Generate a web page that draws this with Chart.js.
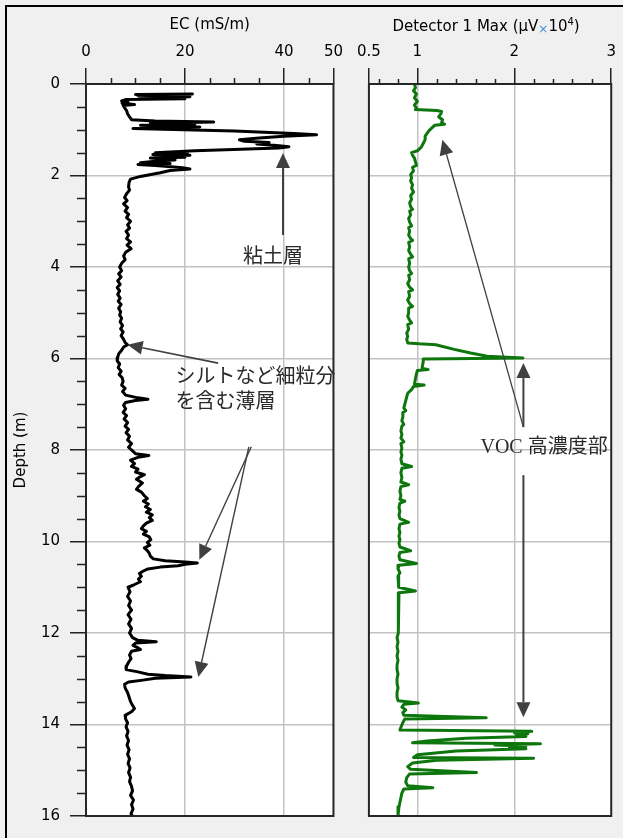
<!DOCTYPE html>
<html>
<head>
<meta charset="utf-8">
<script src="https://cdn.jsdelivr.net/npm/chart.js@4.4.1/dist/chart.umd.min.js"></script>
<style>
  html, body { margin: 0; padding: 0; background: #f0f0f0; }
  body { width: 623px; height: 838px; position: relative; overflow: hidden; }
  #frame { position: absolute; left: 5px; top: 5px; width: 700px; height: 900px;
           border-top: 2px solid #000; border-left: 2px solid #000; }
  #ec { position: absolute; left: 0; top: 0; width: 350px; height: 838px; }
  #det { position: absolute; left: 350px; top: 0; width: 273px; height: 838px; }
</style>
</head>
<body>
<div id="frame"></div>
<canvas id="ec" width="350" height="838"></canvas>
<canvas id="det" width="273" height="838"></canvas>
<script>
const FONT = "'DejaVu Sans', sans-serif";
const NOTE_FONT = "20px 'Liberation Serif', 'Noto Sans CJK JP', serif";
const GRID = '#c2c2c2';
const INK = '#222';

// EC log (depth m, mS/m)
const ecDepth = [0.22, 0.23, 0.25, 0.26, 0.28, 0.30, 0.32, 0.34, 0.37, 0.40, 0.42, 0.45, 0.47, 0.52, 0.58,
  0.65, 0.72, 0.78, 0.81, 0.83, 0.86, 0.88, 0.90, 0.94, 0.97, 1.03, 1.08, 1.11, 1.14, 1.18, 1.22, 1.25,
  1.28, 1.31, 1.34, 1.37, 1.40, 1.46, 1.50, 1.52, 1.54, 1.56, 1.58, 1.60, 1.62, 1.66, 1.68, 1.72, 1.74,
  1.76, 1.78, 1.80, 1.83, 1.86, 1.89, 1.94, 2.02, 2.08, 2.15, 2.25, 2.32, 2.40, 2.48, 2.55, 2.62, 2.70,
  2.78, 2.85, 2.92, 3.00, 3.08, 3.15, 3.22, 3.30, 3.38, 3.45, 3.52, 3.60, 3.68, 3.76, 3.84, 3.92, 4.00,
  4.08, 4.15, 4.22, 4.30, 4.38, 4.45, 4.52, 4.60, 4.68, 4.75, 4.82, 4.90, 4.98, 5.05, 5.12, 5.20, 5.28,
  5.35, 5.42, 5.50, 5.58, 5.65, 5.70, 5.75, 5.82, 5.90, 5.98, 6.05, 6.12, 6.20, 6.28, 6.35, 6.42, 6.50,
  6.58, 6.65, 6.72, 6.80, 6.86, 6.89, 6.92, 6.96, 7.02, 7.10, 7.18, 7.25, 7.32, 7.40, 7.48, 7.55, 7.62,
  7.70, 7.78, 7.86, 7.94, 8.02, 8.08, 8.12, 8.16, 8.22, 8.30, 8.36, 8.42, 8.48, 8.54, 8.58, 8.64, 8.72,
  8.80, 8.86, 8.92, 9.00, 9.06, 9.12, 9.18, 9.24, 9.30, 9.36, 9.42, 9.48, 9.54, 9.60, 9.66, 9.72, 9.78,
  9.84, 9.90, 9.96, 10.02, 10.08, 10.14, 10.20, 10.26, 10.32, 10.38, 10.42, 10.45, 10.47, 10.50, 10.53,
  10.56, 10.60, 10.65, 10.70, 10.76, 10.82, 10.88, 10.94, 11.00, 11.10, 11.20, 11.30, 11.40, 11.50,
  11.60, 11.70, 11.80, 11.90, 12.00, 12.10, 12.16, 12.19, 12.22, 12.27, 12.32, 12.36, 12.40, 12.48,
  12.56, 12.64, 12.72, 12.80, 12.85, 12.90, 12.93, 12.96, 12.99, 13.03, 13.07, 13.12, 13.20, 13.30,
  13.40, 13.50, 13.58, 13.65, 13.72, 13.80, 13.88, 13.96, 14.05, 14.15, 14.25, 14.35, 14.45, 14.55,
  14.65, 14.75, 14.85, 14.95, 15.05, 15.15, 15.25, 15.35, 15.45, 15.55, 15.65, 15.75, 15.85, 15.95, 16.00];
const ecValue = [21.5, 10, 20.5, 10.5, 21, 11, 20, 8, 7.2, 8.5, 7.3, 9.8, 7.5, 7.8, 8.2,
  8.4, 8.8, 9.2, 14, 25.8, 13, 22, 11, 23, 9.5, 30, 42, 46.6, 40, 35, 31, 32,
  37, 34.5, 38, 41, 39, 22, 14, 20.5, 13.5, 21, 14, 20, 13, 18, 15, 11, 17,
  10.5, 14, 16, 19.5, 21, 17, 15, 11, 9, 8.7, 8.6, 8.8, 8.2, 7.8, 8.3, 7.6, 8.4,
  7.9, 8.6, 8.2, 9, 8.4, 8.8, 8.1, 8.6, 8.2, 9, 8.3, 9.1, 8, 7.6, 7.9, 7.2, 6.8,
  7.2, 6.6, 7.1, 6.4, 6.9, 6.3, 6.8, 6.4, 6.9, 6.5, 7.1, 6.6, 7, 6.8, 7.2, 6.9, 7.4,
  7, 7.5, 7.1, 7.6, 7.9, 8.4, 7.6, 7.2, 6.6, 6.4, 6.3, 6.8, 6.5, 7.1, 6.7, 7.3, 7.5,
  7.2, 7.9, 7.4, 8, 10.5, 12.5, 10, 8, 7.6, 8, 7.5, 8.2, 7.7, 8.4, 7.9, 8.6, 8.1,
  8.8, 8.4, 9.2, 8.6, 9.4, 10, 12.7, 10.5, 9, 9.8, 9.2, 10.5, 10, 11.8, 11, 10.2, 11.4,
  10.6, 10.2, 11.2, 11.8, 12.4, 11.6, 12.6, 12, 13, 12.2, 13.4, 12.8, 13.4, 12.2, 11.6, 11.2, 12.2,
  11.6, 12.8, 13.1, 12.4, 12.9, 11.8, 12.4, 12.8, 13, 13.6, 16, 20, 22.5, 20, 18.6,
  15, 12.5, 11.5, 10.8, 11.2, 10.6, 11, 9.8, 8.5, 8.9, 8.4, 9, 8.6, 9.2,
  8.5, 9.1, 8.6, 9.2, 8.8, 9.4, 10.5, 14.2, 10, 9.5, 10.4, 11, 9.2, 8.8,
  9.1, 8.6, 8.2, 8.1, 10.5, 12.5, 16, 21.2, 14, 11.5, 8.6, 7.8, 7.9, 8.4,
  8.7, 9, 9.4, 9.8, 9.2, 7.9, 8, 8.4, 8.1, 8.5, 8.2, 8.6, 8.3, 8.7,
  8.4, 8.8, 8.5, 8.9, 8.6, 9, 8.8, 9.2, 9.4, 9, 9.6, 9.2, 9.5, 9.1, 9.4];

// Detector 1 Max log (depth m, uV x10^4)
const detDepth = [0.00, 0.08, 0.15, 0.22, 0.30, 0.38, 0.46, 0.52, 0.56, 0.58, 0.60, 0.66, 0.72, 0.78,
  0.84, 0.88, 0.90, 0.96, 1.02, 1.08, 1.14, 1.22, 1.30, 1.38, 1.46, 1.50, 1.56, 1.62, 1.70, 1.78, 1.82,
  1.90, 1.98, 2.05, 2.12, 2.20, 2.28, 2.36, 2.44, 2.52, 2.60, 2.68, 2.74, 2.78, 2.86, 2.94, 3.02, 3.10,
  3.14, 3.22, 3.30, 3.38, 3.42, 3.46, 3.56, 3.64, 3.72, 3.78, 3.82, 3.92, 4.00, 4.08, 4.14, 4.18, 4.28,
  4.36, 4.44, 4.50, 4.54, 4.64, 4.72, 4.80, 4.86, 4.90, 5.00, 5.08, 5.16, 5.22, 5.26, 5.36, 5.44, 5.52,
  5.58, 5.66, 5.68, 5.70, 5.80, 5.88, 5.95, 5.99, 6.01, 6.08, 6.18, 6.22, 6.24, 6.26, 6.34, 6.44, 6.56,
  6.58, 6.61, 6.68, 6.76, 6.84, 6.92, 7.00, 7.08, 7.14, 7.18, 7.28, 7.36, 7.44, 7.48, 7.58, 7.66, 7.74,
  7.82, 7.86, 7.96, 8.04, 8.12, 8.20, 8.30, 8.36, 8.40, 8.50, 8.60, 8.70, 8.76, 8.80, 8.90, 9.00, 9.08,
  9.12, 9.16, 9.26, 9.34, 9.42, 9.50, 9.58, 9.62, 9.72, 9.80, 9.88, 9.96, 10.04, 10.12, 10.20, 10.24,
  10.32, 10.40, 10.48, 10.52, 10.60, 10.68, 10.76, 10.84, 10.92, 11.00, 11.08, 11.12, 11.22, 11.30,
  11.40, 11.50, 11.60, 11.70, 11.80, 11.90, 12.00, 12.10, 12.20, 12.30, 12.40, 12.50, 12.60, 12.70,
  12.80, 12.90, 13.00, 13.10, 13.20, 13.30, 13.40, 13.48, 13.53, 13.56, 13.62, 13.68, 13.74, 13.80,
  13.85, 13.88, 13.96, 14.06, 14.12, 14.15, 14.18, 14.20, 14.23, 14.26, 14.30, 14.36, 14.40, 14.42,
  14.45, 14.47, 14.50, 14.53, 14.58, 14.66, 14.72, 14.74, 14.78, 14.84, 14.92, 14.98, 15.05, 15.08,
  15.16, 15.26, 15.34, 15.38, 15.41, 15.50, 15.60, 15.70, 15.80, 15.90, 16.00];
const detValue = [0.97, 0.98, 0.96, 0.99, 0.97, 1.0, 0.97, 0.99, 0.98, 1.2, 1.25, 1.24, 1.22, 1.26,
  1.25, 1.28, 1.18, 1.15, 1.12, 1.1, 1.08, 1.08, 1.06, 1.04, 1.0, 0.94, 0.95, 0.97, 0.98, 0.99, 0.95,
  0.96, 0.93, 0.94, 0.93, 0.95, 0.94, 0.96, 0.93, 0.94, 0.92, 0.93, 0.95, 0.92, 0.93, 0.91, 0.92, 0.94,
  0.91, 0.92, 0.91, 0.93, 0.95, 0.91, 0.92, 0.91, 0.93, 0.95, 0.91, 0.92, 0.91, 0.92, 0.94, 0.91, 0.92,
  0.90, 0.92, 0.95, 0.91, 0.92, 0.90, 0.92, 0.95, 0.91, 0.91, 0.90, 0.92, 0.94, 0.90, 0.91, 0.89, 0.90,
  0.89, 0.90, 1.02, 1.19, 1.38, 1.55, 1.72, 2.09, 1.06, 1.06, 1.05, 1.05, 1.11, 1.0, 0.99, 0.98, 0.97,
  1.07, 0.96, 0.94, 0.90, 0.89, 0.88, 0.87, 0.86, 0.88, 0.85, 0.85, 0.84, 0.86, 0.84, 0.83, 0.84, 0.83,
  0.86, 0.83, 0.84, 0.83, 0.84, 0.83, 0.84, 0.94, 0.84, 0.83, 0.84, 0.83, 0.91, 0.83, 0.82, 0.83, 0.82,
  0.87, 0.82, 0.81, 0.82, 0.81, 0.82, 0.91, 0.82, 0.81, 0.82, 0.81, 0.82, 0.81, 0.82, 0.93, 0.82,
  0.81, 0.82, 0.99, 0.81, 0.80, 0.82, 0.80, 0.81, 0.80, 0.81, 0.98, 0.81, 0.80, 0.81,
  0.80, 0.80, 0.81, 0.80, 0.80, 0.81, 0.80, 0.79, 0.80, 0.79, 0.80, 0.79, 0.80, 0.79,
  0.79, 0.80, 0.79, 0.79, 0.80, 0.79, 0.79, 0.80, 1.01, 0.86, 0.84, 0.88, 0.85, 0.86,
  1.71, 0.87, 0.85, 0.83, 0.82, 2.18, 2.0, 2.14, 2.02, 2.12, 1.5, 1.1, 0.95, 2.27,
  1.8, 2.12, 1.95, 2.12, 1.4, 1.0, 0.96, 2.2, 1.2, 0.95, 0.90, 0.93, 1.61, 0.92,
  0.89, 0.88, 0.90, 1.16, 0.86, 0.84, 0.83, 0.82, 0.81, 0.80, 0.80];

// axis ticks
const depthMajorTicks = [0, 2, 4, 6, 8, 10, 12, 14, 16];
const depthMinorTicks = [0.5, 1, 1.5, 2.5, 3, 3.5, 4.5, 5, 5.5, 6.5, 7, 7.5, 8.5, 9, 9.5,
  10.5, 11, 11.5, 12.5, 13, 13.5, 14.5, 15, 15.5];
const depthGridLines = [2, 4, 6, 8, 10, 12, 14];
const ecMajorTicks = [0, 20, 40, 50];
const ecMinorTicks = [5, 10, 15, 25, 30, 35, 45];
const ecGridLines = [20, 40];
const detMajorTicks = [0.5, 1, 2, 3];
const detMinorTicks = [0.6, 0.8, 1.2, 1.4, 1.6, 1.8, 2.2, 2.4, 2.6, 2.8];
const detGridLines = [1, 2];

// annotations, in data units [value, depth]
const ecArrows = [
  { from: [39.8, 3.30], to: [39.8, 1.51], w: 2 },
  { from: [26.7, 6.10], to: [8.4, 5.70], w: 1.7 },
  { from: [33.4, 7.93], to: [22.9, 10.40], w: 1.4 },
  { from: [32.9, 7.93], to: [22.7, 12.96], w: 1.4 },
];
const ecNotes = [
  { text: '粘土層', at: [37.8, 3.79], align: 'center' },
  { text: 'シルトなど細粒分', at: [18.1, 6.43], align: 'left' },
  { text: 'を含む薄層', at: [18.1, 6.97], align: 'left' },
];
const detArrows = [
  { from: [2.094, 7.50], to: [1.258, 1.22], w: 1.3 },
  { from: [2.094, 7.50], to: [2.094, 6.10], w: 2 },
  { from: [2.094, 8.55], to: [2.094, 13.84], w: 2 },
];
const detNotes = [
  { text: 'VOC 高濃度部', at: [1.651, 7.96], align: 'left' },
];

function toPoints(depth, value) {
  return depth.map((d, i) => ({ x: value[i], y: d }));
}

function drawArrow(ctx, x1, y1, x2, y2, w) {
  const ang = Math.atan2(y2 - y1, x2 - x1);
  const len = 15, half = 7;
  const bx = x2 - len * Math.cos(ang), by = y2 - len * Math.sin(ang);
  ctx.lineWidth = w;
  ctx.beginPath();
  ctx.moveTo(x1, y1);
  ctx.lineTo(bx, by);
  ctx.stroke();
  ctx.beginPath();
  ctx.moveTo(x2, y2);
  ctx.lineTo(bx + half * Math.sin(ang), by - half * Math.cos(ang));
  ctx.lineTo(bx - half * Math.sin(ang), by + half * Math.cos(ang));
  ctx.closePath();
  ctx.fill();
}

// white plot area, minor ticks, frame, arrows and notes
function panelPlugin(cfg) {
  return {
    id: 'panel',
    beforeDraw(chart) {
      const { ctx, chartArea: a } = chart;
      ctx.save();
      ctx.fillStyle = '#fff';
      ctx.fillRect(a.left, a.top, a.right - a.left, a.bottom - a.top);
      ctx.restore();
    },
    afterDraw(chart) {
      const { ctx, chartArea: a, scales: { x, y } } = chart;
      ctx.save();
      ctx.strokeStyle = INK;
      ctx.lineWidth = 1.5;
      ctx.beginPath();
      cfg.xMinor.forEach(v => {
        const px = Math.round(x.getPixelForValue(v)) + 0.5;
        ctx.moveTo(px, a.top);
        ctx.lineTo(px, a.top - cfg.xMinorLen);
      });
      (cfg.yMinor || []).forEach(v => {
        const py = Math.round(y.getPixelForValue(v)) + 0.5;
        ctx.moveTo(a.left, py);
        ctx.lineTo(a.left - cfg.yMinorLen, py);
      });
      ctx.stroke();

      ctx.lineWidth = 2;
      ctx.strokeStyle = '#262626';
      ctx.strokeRect(a.left, a.top, a.right - a.left, a.bottom - a.top);

      ctx.strokeStyle = '#404040';
      ctx.fillStyle = '#404040';
      cfg.arrows.forEach(ar => {
        drawArrow(ctx,
          x.getPixelForValue(ar.from[0]), y.getPixelForValue(ar.from[1]),
          x.getPixelForValue(ar.to[0]), y.getPixelForValue(ar.to[1]), ar.w);
      });

      ctx.font = NOTE_FONT;
      ctx.fillStyle = '#2a2a2a';
      ctx.textBaseline = 'middle';
      cfg.notes.forEach(n => {
        ctx.textAlign = n.align;
        ctx.fillText(n.text, x.getPixelForValue(n.at[0]), y.getPixelForValue(n.at[1]));
      });

      if (cfg.title) cfg.title(chart);
      ctx.restore();
    }
  };
}

// title with a small blue multiplication sign and superscript
function drawDetTitle(chart) {
  const { ctx, chartArea: a } = chart;
  const parts = [
    { t: 'Detector 1 Max (\u03BCV', size: 15, color: '#000', dy: 0 },
    { t: '\u00D7', size: 12, color: '#3d8fd6', dy: 2 },
    { t: '10', size: 15, color: '#000', dy: 0 },
    { t: '4', size: 10, color: '#000', dy: -6 },
    { t: ')', size: 15, color: '#000', dy: 0 },
  ];
  ctx.textAlign = 'left';
  ctx.textBaseline = 'alphabetic';
  let total = 0;
  parts.forEach(p => { ctx.font = p.size + 'px ' + FONT; p.w = ctx.measureText(p.t).width; total += p.w; });
  let cx = (a.left + a.right) / 2 - total / 2 - 4;
  parts.forEach(p => {
    ctx.font = p.size + 'px ' + FONT;
    ctx.fillStyle = p.color;
    ctx.fillText(p.t, cx, 31 + p.dy);
    cx += p.w;
  });
}

function valueAxis(min, max, majors, grids, title) {
  return {
    type: 'linear', position: 'top', min: min, max: max,
    afterBuildTicks: s => { s.ticks = majors.map(v => ({ value: v })); },
    afterFit: s => { s.height = 84; },
    ticks: { font: { family: FONT, size: 15 }, color: '#000', padding: 7, autoSkip: false, maxRotation: 0,
      callback: v => String(v) },
    grid: { color: c => grids.includes(c.tick && c.tick.value) ? GRID : 'rgba(0,0,0,0)', lineWidth: 1.5,
      tickLength: 16, tickColor: INK, tickWidth: 1.5 },
    border: { display: false },
    title: title
      ? { display: true, text: title, font: { family: FONT, size: 15 }, color: '#000', padding: { top: 16, bottom: 0 } }
      : { display: false }
  };
}

function depthAxis(showLabels, width) {
  return {
    type: 'linear', reverse: true, min: 0, max: 16,
    afterBuildTicks: s => { s.ticks = depthMajorTicks.map(v => ({ value: v })); },
    afterFit: s => { s.width = width; },
    ticks: { display: showLabels, font: { family: FONT, size: 15 }, color: '#000', padding: 10, autoSkip: false },
    grid: { color: c => depthGridLines.includes(c.tick && c.tick.value) ? GRID : 'rgba(0,0,0,0)', lineWidth: 1.5,
      drawTicks: showLabels, tickLength: 16, tickColor: INK, tickWidth: 1.5 },
    border: { display: false },
    title: showLabels
      ? { display: true, text: 'Depth (m)', font: { family: FONT, size: 15 }, color: '#000', padding: { top: 12, bottom: 0 } }
      : { display: false }
  };
}

const common = {
  responsive: false,
  animation: false,
  events: [],
  plugins: { legend: { display: false }, tooltip: { enabled: false } },
};

new Chart(document.getElementById('ec'), {
  type: 'scatter',
  data: {
    datasets: [{
      data: toPoints(ecDepth, ecValue),
      showLine: true, borderColor: '#000', borderWidth: 3, pointRadius: 0,
      borderJoinStyle: 'round', borderCapStyle: 'round'
    }]
  },
  options: Object.assign({}, common, {
    layout: { padding: { left: 0, right: 15, top: 0, bottom: 22 } },
    scales: {
      x: valueAxis(0, 50, ecMajorTicks, ecGridLines, 'EC (mS/m)'),
      y: depthAxis(true, 86)
    }
  }),
  plugins: [panelPlugin({
    xMinor: ecMinorTicks, xMinorLen: 6, yMinor: depthMinorTicks, yMinorLen: 9,
    arrows: ecArrows, notes: ecNotes
  })]
});

new Chart(document.getElementById('det'), {
  type: 'scatter',
  data: {
    datasets: [{
      data: toPoints(detDepth, detValue),
      showLine: true, borderColor: '#0d760d', borderWidth: 3, pointRadius: 0,
      borderJoinStyle: 'round', borderCapStyle: 'round'
    }]
  },
  options: Object.assign({}, common, {
    layout: { padding: { left: 0, right: 10, top: 0, bottom: 22 } },
    scales: {
      x: valueAxis(0.5, 3, detMajorTicks, detGridLines, null),
      y: depthAxis(false, 15)
    }
  }),
  plugins: [panelPlugin({
    xMinor: detMinorTicks, xMinorLen: 5,
    arrows: detArrows, notes: detNotes, title: drawDetTitle
  })]
});
</script>
</body>
</html>
